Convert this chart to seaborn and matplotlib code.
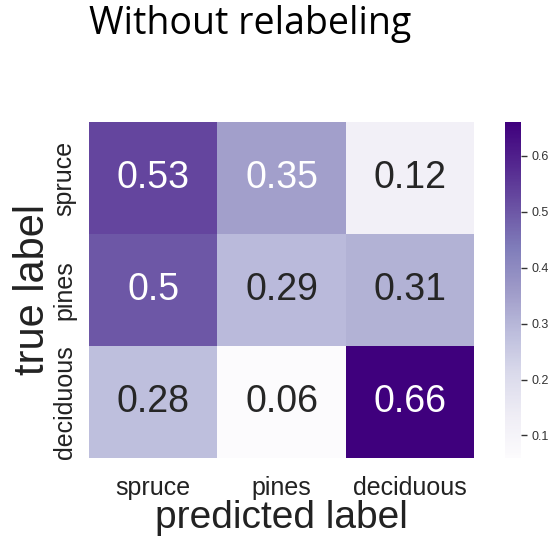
import numpy as np
import pandas as pd
import matplotlib
matplotlib.use("Agg")
import matplotlib.pyplot as plt
import seaborn as sns

classes = ["spruce", "pines", "deciduous"]
row_spruce = [0.53, 0.35, 0.12]
row_pines = [0.50, 0.29, 0.31]
row_deciduous = [0.28, 0.06, 0.66]
cbar_ticks = [0.1, 0.2, 0.3, 0.4, 0.5, 0.6]

sns.set_theme(style="white")
plt.rcParams['font.family'] = ['Liberation Sans', 'DejaVu Sans']

df = pd.DataFrame([row_spruce, row_pines, row_deciduous], index=classes, columns=classes)

fig = plt.figure(figsize=(5.57, 5.38), dpi=100)
ax = fig.add_axes([0.160, 0.149, 0.691, 0.624])
cax = fig.add_axes([0.907, 0.149, 0.029, 0.624])

sns.heatmap(df, annot=True, fmt="g", cmap="Purples", ax=ax, cbar_ax=cax,
            annot_kws={"size": 27}, cbar_kws={"ticks": cbar_ticks})

ax.set_xlabel("predicted label", fontsize=28, color="#222222", labelpad=0)
ax.set_ylabel("true label", fontsize=30, color="#222222", labelpad=0)
ax.tick_params(axis="x", labelsize=18, colors="#222222", length=0, pad=13)
ax.tick_params(axis="y", labelsize=18, colors="#222222", length=0, pad=9)
ax.set_yticklabels(classes, rotation=90, va="center")

cax.tick_params(labelsize=9, length=4, width=1, colors="#333333")
for s in cax.spines.values():
    s.set_visible(False)

fig.text(0.449, 0.955, "Without relabeling", ha="center", va="center",
         fontsize=27, family=["Open Sans", "DejaVu Sans"], color="black")

fig.savefig("out.png", dpi=100)
